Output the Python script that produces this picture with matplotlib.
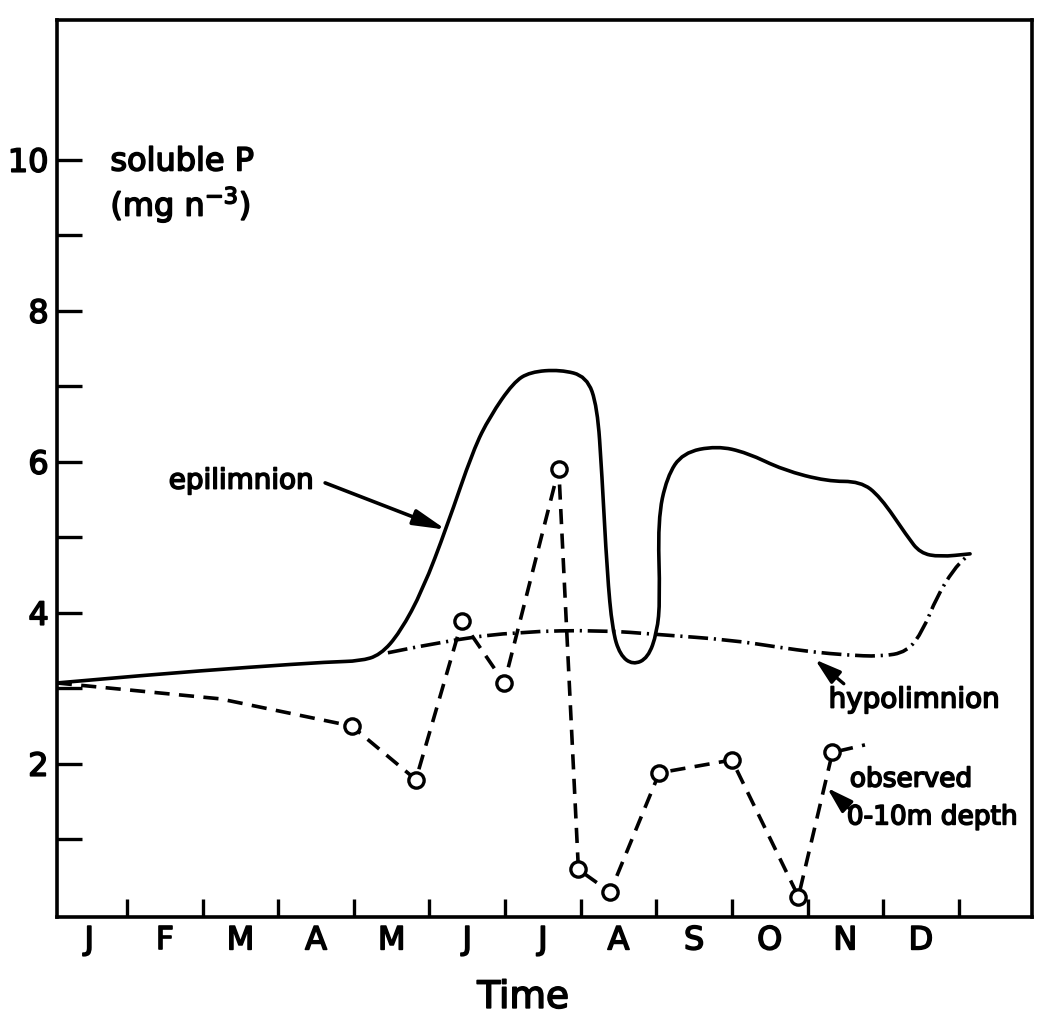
import matplotlib
matplotlib.use('Agg')
import matplotlib.pyplot as plt
import matplotlib.patheffects as pe
from matplotlib.path import Path
from matplotlib.patches import PathPatch

# ---------------- data ----------------
months = ['J', 'F', 'M', 'A', 'M', 'J', 'J', 'A', 'S', 'O', 'N', 'D']
month_edges = list(range(1, 13))
y_major = [2, 4, 6, 8, 10]
y_minor = [1, 3, 5, 7, 9]

epi_x = [0.07, 1.31, 2.63, 3.69, 4.08, 4.35, 4.61, 4.91, 5.23, 5.58, 5.80, 6.11,
         6.33, 6.73, 7.08, 7.22, 7.28, 7.35, 7.42, 7.52, 7.69, 7.89, 8.01, 8.05,
         8.02, 8.14, 8.35, 8.80, 9.20, 9.68, 10.26, 10.70, 10.96, 11.32, 11.49,
         11.75, 12.15]
epi_y = [3.07, 3.18, 3.28, 3.35, 3.36, 3.44, 3.74, 4.30, 5.14, 6.16, 6.60, 7.05,
         7.19, 7.22, 7.13, 6.73, 5.85, 4.53, 3.77, 3.44, 3.31, 3.40, 3.74, 4.17,
         5.23, 5.80, 6.12, 6.21, 6.12, 5.89, 5.74, 5.74, 5.54, 5.01, 4.79,
         4.74, 4.78]

hypo_x = [4.45, 5.27, 6.20, 7.26, 8.05, 8.98, 9.64, 10.07, 10.52, 10.96, 11.32,
          11.53, 11.71, 11.93, 12.09]
hypo_y = [3.47, 3.64, 3.75, 3.77, 3.71, 3.64, 3.54, 3.48, 3.44, 3.42, 3.48,
          3.77, 4.21, 4.57, 4.73]

obs_x = [3.97, 4.82, 5.43, 5.99, 6.71, 6.97, 7.39, 8.04, 9.00, 9.88, 10.33]
obs_y = [2.50, 1.79, 3.89, 3.07, 5.91, 0.60, 0.30, 1.88, 2.05, 0.24, 2.15]
obs_lead_x = [0.07, 2.23]
obs_lead_y = [3.07, 2.86]
obs_tail_x = [10.76]
obs_tail_y = [2.25]


def smooth_path(xs, ys):
    """Quadratic-Bezier path through the midpoints, using the read points as
    control points (rendering only)."""
    verts = [(xs[0], ys[0])]
    codes = [Path.MOVETO]
    for i in range(1, len(xs) - 1):
        verts += [(xs[i], ys[i]),
                  ((xs[i] + xs[i + 1]) / 2, (ys[i] + ys[i + 1]) / 2)]
        codes += [Path.CURVE3, Path.CURVE3]
    verts.append((xs[-1], ys[-1]))
    codes.append(Path.LINETO)
    return Path(verts, codes)


# ---------------- figure ----------------
plt.rcParams['font.family'] = ['DejaVu Sans']
thick = [pe.withStroke(linewidth=1.2, foreground='black')]

fig = plt.figure(figsize=(10.41, 10.22), dpi=100)
ax = fig.add_axes([0.0548, 0.1027, 0.9366, 0.8777])
ax.set_xlim(0.074, 12.97)
ax.set_ylim(-0.03, 11.85)

lw = 2.6
ax.add_patch(PathPatch(smooth_path(epi_x, epi_y), fill=False, edgecolor='black',
                       lw=lw, joinstyle='round', capstyle='round', zorder=3))
ax.add_patch(PathPatch(smooth_path(hypo_x, hypo_y), fill=False,
                       edgecolor='black', lw=lw,
                       linestyle=(0, (5.5, 1.6, 0.6, 1.6)), zorder=3))
line_x = obs_lead_x + obs_x + obs_tail_x
line_y = obs_lead_y + obs_y + obs_tail_y
ax.plot(line_x, line_y, color='black', lw=lw, linestyle=(0, (4.2, 2.6)),
        zorder=3)
ax.plot(obs_x, obs_y, linestyle='none', marker='o', ms=11, mfc='white',
        mec='black', mew=2.4, zorder=4)

# ---------------- axes styling ----------------
for s in ax.spines.values():
    s.set_linewidth(2.6)

ax.set_xticks(month_edges)
ax.set_xticklabels([])
ax.set_xticks([m + 0.5 for m in range(12)], minor=True)
ax.set_xticklabels(months, minor=True, fontsize=23)
ax.tick_params(axis='x', which='major', direction='in', length=13, width=2.4)
ax.tick_params(axis='x', which='minor', length=0, pad=6)

ax.set_yticks(y_major)
ax.set_yticklabels([str(v) for v in y_major], fontsize=23)
ax.set_yticks(y_minor, minor=True)
ax.tick_params(axis='y', which='both', direction='in', length=18, width=2.4,
               pad=6)

for lab in ax.get_xticklabels(minor=True) + ax.get_yticklabels():
    lab.set_path_effects(thick)

ax.set_xlabel('Time', fontsize=27, path_effects=thick)
ax.xaxis.set_label_coords(0.478, -0.07)

# ---------------- annotations ----------------
ax.text(0.78, 9.97, 'soluble P', fontsize=23, va='center', ha='left',
        path_effects=thick)
ax.text(0.78, 9.40, '(mg n$^{-3}$)', fontsize=23, va='center', ha='left',
        path_effects=thick)

ax.text(2.51, 5.75, 'epilimnion', fontsize=20, va='center', ha='center',
        path_effects=thick)
ax.annotate('', xy=(5.22, 5.10), xytext=(3.62, 5.72),
            arrowprops=dict(arrowstyle='-|>,head_length=0.7,head_width=0.17',
                            color='black', lw=2.6,
                            mutation_scale=28, shrinkA=0, shrinkB=0))

ax.text(11.41, 2.85, 'hypolimnion', fontsize=20, va='center', ha='center',
        path_effects=thick)
ax.annotate('', xy=(10.10, 3.38), xytext=(10.48, 3.06),
            arrowprops=dict(arrowstyle='-|>,head_length=0.65,head_width=0.2',
                            color='black', lw=2.4,
                            mutation_scale=24, shrinkA=0, shrinkB=0))

ax.text(10.56, 1.79, 'observed', fontsize=19, va='center', ha='left',
        path_effects=thick)
ax.text(10.52, 1.29, '0-10m depth', fontsize=19, va='center', ha='left',
        path_effects=thick)
ax.annotate('', xy=(10.26, 1.68), xytext=(10.56, 1.40),
            arrowprops=dict(arrowstyle='-|>,head_length=0.65,head_width=0.2',
                            color='black', lw=2.4,
                            mutation_scale=24, shrinkA=0, shrinkB=0))

fig.savefig('out.png', dpi=100)
